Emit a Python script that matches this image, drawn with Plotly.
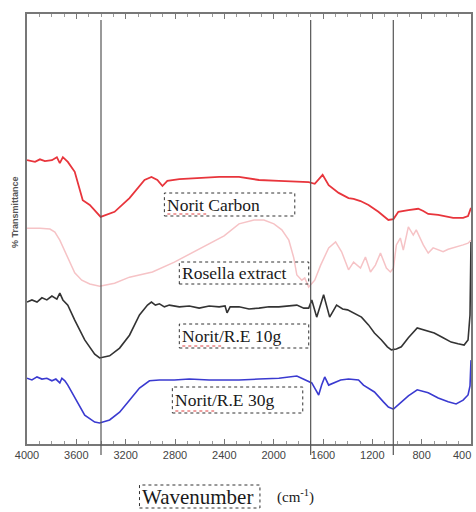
import plotly.graph_objects as go

# ---------------- data (wavenumber cm^-1, % transmittance, arbitrary offset) -------------
wn_carbon = [4000, 3935, 3895, 3855, 3798, 3758, 3734, 3709, 3669, 3613, 3548, 3491, 3403, 3290, 3169,
             3047, 2991, 2943, 2902, 2862, 2765, 2604, 2442, 2281, 2119, 1958, 1796, 1716, 1667, 1603,
             1554, 1473, 1393, 1352, 1296, 1231, 1151, 1070, 1029, 989, 908, 828, 787, 747, 666, 545,
             464, 424, 400]
t_carbon = [66.0, 65.6, 66.2, 65.8, 66.0, 66.7, 65.3, 66.7, 65.6, 63.3, 56.7, 55.6, 52.8, 54.0, 57.2,
            61.4, 62.1, 61.4, 60.0, 61.2, 61.6, 61.9, 62.1, 62.1, 61.4, 61.2, 60.9, 60.9, 60.5, 62.6,
            60.2, 58.4, 57.2, 57.0, 56.5, 55.6, 54.0, 52.1, 52.3, 54.0, 54.4, 54.7, 54.2, 53.5, 53.3,
            52.6, 52.6, 53.0, 54.9]

wn_rosella = [4000, 3895, 3814, 3774, 3734, 3693, 3653, 3613, 3556, 3491, 3411, 3290, 3169, 2983, 2805,
              2579, 2402, 2281, 2160, 2079, 1998, 1934, 1877, 1837, 1812, 1772, 1748, 1716, 1667, 1619,
              1554, 1498, 1449, 1393, 1352, 1296, 1256, 1215, 1175, 1134, 1086, 1054, 1029, 1005, 973,
              949, 908, 868, 844, 787, 747, 707, 666, 626, 585, 545, 464, 424, 400]
t_rosella = [50.2, 50.2, 50.0, 49.3, 47.4, 44.7, 42.1, 39.8, 38.1, 37.2, 36.7, 37.4, 38.8, 40.0, 42.3,
             45.8, 48.4, 51.2, 52.1, 52.1, 51.2, 49.8, 47.4, 43.3, 39.3, 38.1, 38.6, 36.5, 38.1, 41.6,
             45.6, 47.0, 44.7, 40.5, 42.3, 40.9, 43.5, 40.0, 41.6, 44.4, 40.9, 40.0, 40.9, 46.3, 47.9,
             45.1, 50.5, 48.6, 49.8, 46.3, 44.4, 45.6, 45.1, 44.7, 45.3, 45.6, 46.3, 46.7, 47.4]

wn_re10 = [4000, 3960, 3919, 3879, 3839, 3798, 3758, 3734, 3709, 3669, 3613, 3532, 3451, 3411, 3330,
           3249, 3169, 3088, 3023, 2991, 2959, 2926, 2886, 2846, 2765, 2684, 2604, 2523, 2442, 2394,
           2378, 2353, 2281, 2200, 2119, 2038, 1958, 1877, 1812, 1756, 1716, 1691, 1651, 1595, 1546,
           1490, 1441, 1401, 1352, 1288, 1231, 1183, 1126, 1078, 1046, 1005, 965, 908, 836, 763, 698,
           626, 561, 505, 456, 424, 408, 400]
t_re10 = [33.0, 33.5, 33.0, 34.0, 33.5, 34.4, 33.7, 35.1, 33.5, 32.3, 28.8, 24.2, 20.9, 20.0, 20.5,
          22.3, 25.3, 30.0, 32.3, 33.0, 32.3, 32.6, 31.9, 32.3, 31.9, 32.1, 31.6, 32.1, 31.9, 32.1,
          30.5, 31.9, 31.9, 31.4, 31.6, 31.9, 31.9, 32.1, 32.3, 31.6, 31.6, 33.5, 29.5, 34.7, 29.5,
          32.3, 31.4, 31.2, 30.5, 29.5, 27.7, 25.8, 24.2, 22.6, 21.9, 22.1, 22.6, 24.7, 27.0, 26.3,
          25.8, 24.7, 23.7, 23.3, 23.0, 24.2, 30.0, 47.0]

wn_re30 = [4000, 3960, 3919, 3879, 3839, 3798, 3766, 3734, 3717, 3693, 3669, 3613, 3532, 3451, 3411,
           3330, 3249, 3169, 3088, 3007, 2926, 2805, 2684, 2523, 2361, 2281, 2119, 1958, 1812, 1756,
           1716, 1691, 1667, 1635, 1611, 1586, 1554, 1514, 1457, 1393, 1312, 1272, 1231, 1183, 1110,
           1070, 1029, 989, 908, 836, 747, 666, 585, 521, 464, 424, 408, 400]
t_re30 = [15.3, 14.9, 15.6, 15.1, 15.3, 14.7, 15.1, 14.2, 15.3, 14.7, 13.7, 10.7, 6.7, 5.1, 4.9,
          5.6, 7.4, 10.2, 13.0, 14.7, 14.9, 14.9, 15.1, 14.9, 14.9, 14.9, 15.1, 15.3, 15.8, 15.1,
          14.7, 14.2, 13.0, 11.4, 13.7, 15.6, 13.7, 14.2, 14.9, 15.1, 14.9, 13.7, 13.0, 12.1, 9.8,
          8.6, 8.1, 9.1, 11.2, 12.6, 11.9, 10.7, 9.8, 9.3, 10.2, 11.4, 13.5, 19.5]

x_ticks = [4000, 3600, 3200, 2800, 2400, 2000, 1600, 1200, 800, 400]
marker_lines = [3400, 1700, 1030]

series_names = ["Norit Carbon", "Rosella extract", "Norit/R.E 10g", "Norit/R.E 30g"]

# ---------------- figure -------------
W, H = 476, 512
L, R, T, B = 27, 3, 14, 68
pw, ph = W - L - R, H - T - B


def px(x):
    return (x - L) / pw


def py(y):
    return (H - B - y) / ph


fig = go.Figure()
styles = [("#e8353c", 1.8), ("#f6c3c6", 1.5), ("#333333", 1.6), ("#3a3ad0", 1.6)]
for (xs, ys), name, (col, w) in zip(
        [(wn_carbon, t_carbon), (wn_rosella, t_rosella), (wn_re10, t_re10), (wn_re30, t_re30)],
        series_names, styles):
    fig.add_trace(go.Scatter(x=xs, y=ys, mode="lines", name=name,
                             line=dict(color=col, width=w),
                             showlegend=False, hoverinfo="skip"))

shapes = []
for v in marker_lines:
    shapes.append(dict(type="line", xref="x", yref="paper", x0=v, x1=v,
                       y0=py(455), y1=py(20), line=dict(color="#555555", width=1.2)))

# label boxes (pixel positions)
boxes = [(165, 193, 296, 216, "Norit Carbon"),
         (180, 262, 310, 284, "Rosella extract"),
         (180, 324, 310, 348, "Norit/R.E 10g"),
         (173, 387, 304, 413, "Norit/R.E 30g")]
annotations = []
for x0, y0, x1, y1, txt in boxes:
    shapes.append(dict(type="rect", xref="paper", yref="paper", x0=px(x0), x1=px(x1),
                       y0=py(y1), y1=py(y0), line=dict(color="#333333", width=1, dash="dot")))
    annotations.append(dict(xref="paper", yref="paper", x=px(x0 + 1), y=py((y0 + y1) / 2),
                            xanchor="left", yanchor="middle", showarrow=False, text=txt,
                            font=dict(family="Liberation Serif", size=17.5, color="#1a1a1a")))
    if txt.startswith("Norit"):
        shapes.append(dict(type="line", xref="paper", yref="paper", x0=px(x0 + 3), x1=px(x0 + 42),
                           y0=py(y1 - 2), y1=py(y1 - 2),
                           line=dict(color="#e04040", width=1, dash="dot")))

# Wavenumber box
shapes.append(dict(type="rect", xref="paper", yref="paper", x0=px(140), x1=px(261),
                   y0=py(508), y1=py(485), line=dict(color="#333333", width=1, dash="dot")))
annotations.append(dict(xref="paper", yref="paper", x=px(141), y=py(497), xanchor="left",
                        yanchor="middle", showarrow=False, text="Wavenumber",
                        font=dict(family="Liberation Serif", size=21, color="#1a1a1a")))
annotations.append(dict(xref="paper", yref="paper", x=px(276), y=py(497), xanchor="left",
                        yanchor="middle", showarrow=False, text="(cm<sup>-1</sup>)",
                        font=dict(family="Liberation Serif", size=15, color="#1a1a1a")))
annotations.append(dict(xref="paper", yref="paper", x=px(15), y=py(212), xanchor="center",
                        yanchor="middle", showarrow=False, text="<b>% Transmittance</b>",
                        textangle=-90,
                        font=dict(family="Liberation Sans", size=9, color="#555555")))
# last tick label, kept inside the page at the right edge
annotations.append(dict(xref="paper", yref="paper", x=px(W - 1), y=py(455), xanchor="right",
                        yanchor="middle", showarrow=False, text=str(x_ticks[-1]),
                        font=dict(family="Liberation Sans", size=11, color="#444444")))

fig.update_layout(
    width=W, height=H,
    margin=dict(l=L, r=R, t=T, b=B),
    paper_bgcolor="white", plot_bgcolor="white",
    shapes=shapes, annotations=annotations,
    xaxis=dict(range=[4000, 400], tickvals=x_ticks[:-1], ticktext=[str(v) for v in x_ticks[:-1]],
               showgrid=False, zeroline=False, showline=True, linecolor="#777777", linewidth=1.5,
               mirror="allticks", ticks="inside", ticklen=5, tickcolor="#777777",
               minor=dict(dtick=100, ticks="inside", ticklen=3, tickcolor="#999999"),
               tickfont=dict(family="Liberation Sans", size=11, color="#444444")),
    yaxis=dict(range=[0, 100], showticklabels=False, showgrid=False, zeroline=False,
               showline=True, linecolor="#777777", linewidth=1.5, mirror=True, ticks=""),
)

fig.write_html("out.html")
